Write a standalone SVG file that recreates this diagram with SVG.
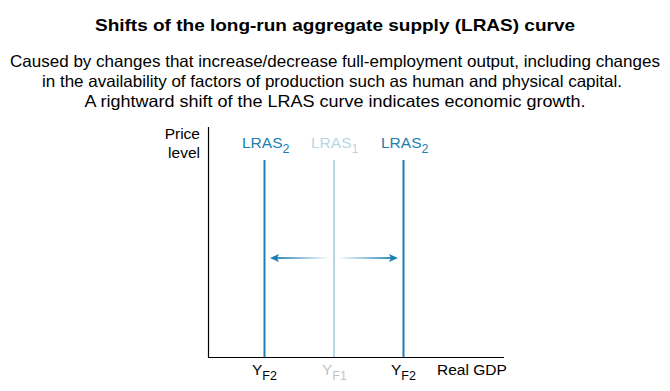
<svg xmlns="http://www.w3.org/2000/svg" width="670" height="391" viewBox="0 0 670 391">
<style>
text{font-family:"Liberation Sans",Arial,sans-serif;fill:#000}
.title{font-size:17px;font-weight:bold}
.sub{font-size:16.5px}
.lbl{font-size:15.5px}
.dk{fill:#1b7fb0}
.lt{fill:#b8d7e5}
.gr{fill:#c4c4c4}
.sm{font-size:12.5px}
</style>
<defs>
<linearGradient id="gl" x1="270" y1="0" x2="330" y2="0" gradientUnits="userSpaceOnUse">
<stop offset="0" stop-color="#1b7fb0"/><stop offset="1" stop-color="#1b7fb0" stop-opacity="0"/>
</linearGradient>
<linearGradient id="gr" x1="398" y1="0" x2="338" y2="0" gradientUnits="userSpaceOnUse">
<stop offset="0" stop-color="#1b7fb0"/><stop offset="1" stop-color="#1b7fb0" stop-opacity="0"/>
</linearGradient>
</defs>
<text class="title" x="335" y="31" text-anchor="middle" textLength="480" lengthAdjust="spacingAndGlyphs">Shifts of the long-run aggregate supply (LRAS) curve</text>
<text class="sub" x="335" y="67" text-anchor="middle" textLength="650" lengthAdjust="spacingAndGlyphs">Caused by changes that increase/decrease full-employment output, including changes</text>
<text class="sub" x="332" y="87" text-anchor="middle" textLength="580" lengthAdjust="spacingAndGlyphs">in the availability of factors of production such as human and physical capital.</text>
<text class="sub" x="335" y="107" text-anchor="middle" textLength="501" lengthAdjust="spacingAndGlyphs">A rightward shift of the LRAS curve indicates economic growth.</text>
<g id="axes">
<line x1="208.5" y1="127" x2="208.5" y2="357.5" stroke="#000" stroke-width="1.2"/>
<line x1="208" y1="357.5" x2="504" y2="357.5" stroke="#000" stroke-width="1.2"/>
<text class="lbl" x="200" y="139" text-anchor="end">Price</text>
<text class="lbl" x="200" y="158" text-anchor="end">level</text>
<text class="lbl" x="437" y="375">Real GDP</text>
</g>
<g id="lras1">
<line x1="334" y1="160" x2="334" y2="357" stroke="#b8d7e5" stroke-width="2"/>
<text class="lbl lt" x="311" y="148">LRAS<tspan class="sm" dy="5">1</tspan></text>
<text class="lbl gr" x="322" y="375">Y<tspan class="sm" dy="5">F1</tspan></text>
</g>
<g id="lras2-left">
<line x1="264.5" y1="160" x2="264.5" y2="357" stroke="#1b7fb0" stroke-width="2"/>
<text class="lbl dk" x="242" y="148">LRAS<tspan class="sm" dy="5">2</tspan></text>
<text class="lbl" x="252" y="375">Y<tspan class="sm" dy="5">F2</tspan></text>
</g>
<g id="lras2-right">
<line x1="403.5" y1="160" x2="403.5" y2="357" stroke="#1b7fb0" stroke-width="2"/>
<text class="lbl dk" x="381" y="148">LRAS<tspan class="sm" dy="5">2</tspan></text>
<text class="lbl" x="391" y="375">Y<tspan class="sm" dy="5">F2</tspan></text>
</g>
<g id="connectors">
<rect x="276" y="257" width="55" height="2" fill="url(#gl)"/>
<polygon points="270,258 279,254 277,258 279,262" fill="#1b7fb0"/>
<rect x="338" y="257" width="55" height="2" fill="url(#gr)"/>
<polygon points="398,258 389,254 391,258 389,262" fill="#1b7fb0"/>
</g>
</svg>
